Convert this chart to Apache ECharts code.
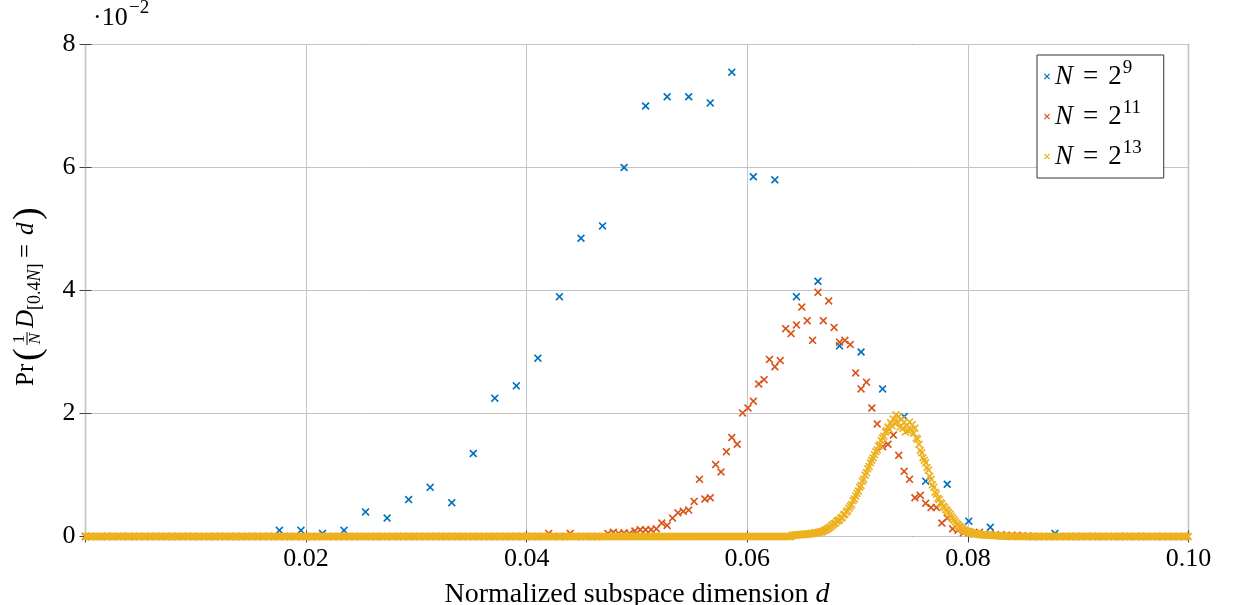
<!DOCTYPE html>
<html>
<head>
<meta charset="utf-8">
<script src="https://cdn.jsdelivr.net/npm/echarts@6/dist/echarts.min.js"></script>
<style>
  html, body { margin: 0; padding: 0; background: #fff; }
  #chart { width: 1237px; height: 605px; }
</style>
</head>
<body>
<div id="chart"></div>
<script>
const SERIF = '"Liberation Serif", "DejaVu Serif", serif';

// Number of subspace dimensions (bins) for each system size
const binsN9 = 512;
const binsN11 = 2048;
const binsN13 = 8192;
const dMax = 0.1;

// Pr values in units of 1e-2, one per bin k/N starting at bin index `first*`
const firstN9 = 0;
const probN9 = [0,0,0,0,0,0,0,0,0,
  0.1,0.1,0.05,0.1,0.4,0.3,0.6,0.8,0.55,1.35,2.25,2.45,2.9,3.9,4.85,5.05,6.0,7.0,7.15,7.15,7.05,7.55,
  5.85,5.8,3.9,4.15,3.1,3.0,2.4,1.95,0.9,0.85,0.25,0.15,0,0,0.05,
  0,0,0,0,0,0];

const firstN11 = 84;
const probN11 = [0,0,0.05,0,0,0,0.05,0,0,0,0,0,0,0.05,0.07,0.05,0.06,0.05,0.09,0.11,0.11,0.11,0.125,
  0.22,0.18,0.30,0.385,0.41,0.43,0.57,0.93,0.61,0.63,1.17,1.05,1.38,1.61,1.5,2.01,2.09,2.2,
  2.48,2.55,2.88,2.76,2.86,3.38,3.30,3.44,3.73,3.51,3.19,3.97,3.51,3.83,3.40,3.16,3.19,3.12,
  2.66,2.40,2.51,2.09,1.83,1.46,1.50,1.65,1.32,1.06,0.93,0.63,0.67,0.54,0.47,0.47,0.22,0.30,
  0.125,0.10,0.06,0.08,0.04,0.07,0.03,0.04,0.02,0.03,0.02,0.015,0.02,0.01,0.01];

const firstN13 = 525;
const probN13 = [
  0.02,0.02,0.025,0.02,0.03,0.03,0.025,0.035,0.03,0.04,
  0.035,0.04,0.045,0.04,0.05,0.045,0.055,0.06,0.055,0.07,
  0.065,0.08,0.075,0.09,0.10,0.11,0.12,0.14,0.15,0.17,
  0.19,0.21,0.22,0.25,0.26,0.27,0.30,0.31,0.35,0.36,
  0.40,0.42,0.46,0.49,0.52,0.58,0.61,0.66,0.70,0.74,
  0.80,0.83,0.90,0.93,1.00,1.04,1.10,1.14,1.20,1.24,
  1.28,1.33,1.38,1.41,1.47,1.49,1.56,1.60,1.63,1.70,
  1.72,1.78,1.74,1.85,1.80,1.91,1.84,1.98,1.86,1.95,
  1.78,1.90,1.76,1.86,1.70,1.80,1.72,1.86,1.74,1.82,
  1.68,1.76,1.60,1.58,1.50,1.40,1.36,1.28,1.24,1.20,
  1.12,1.08,0.98,0.93,0.84,0.80,0.72,0.69,0.62,0.60,
  0.55,0.53,0.49,0.47,0.44,0.42,0.39,0.36,0.33,0.30,
  0.27,0.24,0.21,0.19,0.17,0.15,0.13,0.11,0.10,0.09,
  0.08,0.075,0.07,0.06,0.055,0.05,0.045,0.04,0.04,0.035,
  0.03,0.03,0.03,0.025,0.025,0.02,0.02,0.02,0.02,0.015,
  0.015,0.015,0.015,0.01,0.01,0.01,0.01,0.01,0.005,0.005,
  0.005,0.005,0.005,0.003,0.003,0.003];

const seriesNames = ['N9', 'N11', 'N13'];
const seriesExp = ['9', '11', '13'];
const seriesColors = ['#0072BD', '#D95319', '#EDB120'];

// Every bin k/N up to dMax; bins outside the listed window have probability 0
function binPoints(bins, first, probs) {
  const pts = [];
  for (let k = 0; k / bins <= dMax + 1e-12; k++) {
    const i = k - first;
    pts.push([k / bins, i >= 0 && i < probs.length ? probs[i] : 0]);
  }
  return pts;
}

// thin "x" marker as a filled outline
const CROSS = 'path://M0,1.45L1.45,0L5,3.55L8.55,0L10,1.45L6.45,5L10,8.55L8.55,10L5,6.45L1.45,10L0,8.55L3.55,5Z';

const chart = echarts.init(document.getElementById('chart'), null, { renderer: 'canvas' });

const tickStyle = { show: true, inside: true, length: 6, lineStyle: { color: '#444', width: 1 } };
const gridLine = { show: true, lineStyle: { color: '#c4c4c4', width: 1, type: 'solid' } };
const labelFont = { fontFamily: SERIF, fontSize: 26, color: '#000' };

function scatter(idx, pts) {
  return {
    type: 'scatter',
    name: seriesNames[idx],
    data: pts,
    symbol: CROSS,
    symbolSize: 8,
    itemStyle: { color: seriesColors[idx], opacity: 1 },
    emphasis: { disabled: true },
    silent: true,
    z: 3 + idx
  };
}

const option = {
  animation: false,
  backgroundColor: '#fff',
  grid: {
    left: 85.5, right: 48.5, top: 44.5, bottom: 68.5,
    show: true, borderColor: '#333', borderWidth: 1.2, backgroundColor: 'transparent',
    containLabel: false, outerBoundsMode: 'none'
  },
  xAxis: [{
    type: 'value', min: 0, max: dMax, interval: 0.02, position: 'bottom',
    axisLine: { show: false },
    axisTick: tickStyle,
    splitLine: gridLine,
    axisLabel: Object.assign({ margin: 10, showMinLabel: false, formatter: v => v.toFixed(2) }, labelFont),
    name: '{n|Normalized subspace dimension }{i|d}',
    nameLocation: 'middle', nameGap: 44,
    nameTextStyle: {
      rich: {
        n: { fontFamily: SERIF, fontSize: 28, color: '#000' },
        i: { fontFamily: SERIF, fontSize: 28, fontStyle: 'italic', color: '#000' }
      }
    }
  }, {
    type: 'value', min: 0, max: dMax, interval: 0.02, position: 'top',
    axisLine: { show: false }, axisTick: tickStyle, splitLine: { show: false }, axisLabel: { show: false }
  }],
  yAxis: [{
    type: 'value', min: 0, max: 8, interval: 2, position: 'left',
    axisLine: { show: false },
    axisTick: tickStyle,
    splitLine: gridLine,
    axisLabel: Object.assign({ margin: 10 }, labelFont)
  }, {
    type: 'value', min: 0, max: 8, interval: 2, position: 'right',
    axisLine: { show: false }, axisTick: tickStyle, splitLine: { show: false }, axisLabel: { show: false }
  }],
  legend: {
    orient: 'vertical', left: 1037, top: 55,
    padding: [4, 22, 4, 7], itemGap: 5, itemWidth: 6, itemHeight: 6, itemTextGap: 3,
    borderColor: '#333', borderWidth: 1, backgroundColor: '#fff',
    selectedMode: false,
    data: seriesNames.map(n => ({ name: n, icon: CROSS })),
    formatter: name => '{i|N}{e|=}2{s|' + seriesExp[seriesNames.indexOf(name)] + '}',
    textStyle: {
      fontFamily: SERIF, fontSize: 27, color: '#000', lineHeight: 35,
      rich: {
        i: { fontFamily: SERIF, fontSize: 27, fontStyle: 'italic', lineHeight: 35 },
        e: { fontFamily: SERIF, fontSize: 27, lineHeight: 35, padding: [0, 10, 0, 10] },
        s: { fontFamily: SERIF, fontSize: 19, verticalAlign: 'top', lineHeight: 22, padding: [0, 0, 0, 1] }
      }
    }
  },
  graphic: [
    // axis multiplier
    { type: 'text', left: 93, top: 5, silent: true,
      style: { text: '·10', font: '26px ' + SERIF, fill: '#000' } },
    { type: 'text', left: 129, top: -1, silent: true,
      style: { text: '−2', font: '19px ' + SERIF, fill: '#000' } },
    // y axis title: Pr( (1/N) D_[0.4N] = d ), read bottom to top
    { type: 'group', x: 34, y: 386, rotation: Math.PI / 2, silent: true,
      children: [
        { type: 'text', x: 0, y: -8, style: { text: 'Pr', font: '25px ' + SERIF, fill: '#000', verticalAlign: 'middle' } },
        { type: 'text', x: 25, y: -5, style: { text: '(', font: '38px ' + SERIF, fill: '#000', verticalAlign: 'middle' } },
        { type: 'text', x: 47, y: -14, style: { text: '1', font: '17px ' + SERIF, fill: '#000', align: 'center', verticalAlign: 'middle' } },
        { type: 'line', shape: { x1: 41, y1: -7, x2: 54, y2: -7 }, style: { stroke: '#000', lineWidth: 1 } },
        { type: 'text', x: 47.5, y: 2, style: { text: 'N', font: 'italic 17px ' + SERIF, fill: '#000', align: 'center', verticalAlign: 'middle' } },
        { type: 'text', x: 58, y: -8, style: { text: 'D', font: 'italic 25px ' + SERIF, fill: '#000', verticalAlign: 'middle' } },
        { type: 'text', x: 76, y: 1, style: {
            text: '{a|[0.4}{b|N}{a|]}', fill: '#000', verticalAlign: 'middle',
            rich: { a: { font: '18px ' + SERIF }, b: { font: 'italic 18px ' + SERIF } } } },
        { type: 'text', x: 128, y: -8, style: { text: '=', font: '25px ' + SERIF, fill: '#000', verticalAlign: 'middle' } },
        { type: 'text', x: 151, y: -8, style: { text: 'd', font: 'italic 25px ' + SERIF, fill: '#000', verticalAlign: 'middle' } },
        { type: 'text', x: 166, y: -5, style: { text: ')', font: '38px ' + SERIF, fill: '#000', verticalAlign: 'middle' } }
      ] }
  ],
  series: [
    scatter(0, binPoints(binsN9, firstN9, probN9)),
    scatter(1, binPoints(binsN11, firstN11, probN11)),
    scatter(2, binPoints(binsN13, firstN13, probN13))
  ]
};

chart.setOption(option);
</script>
</body>
</html>
